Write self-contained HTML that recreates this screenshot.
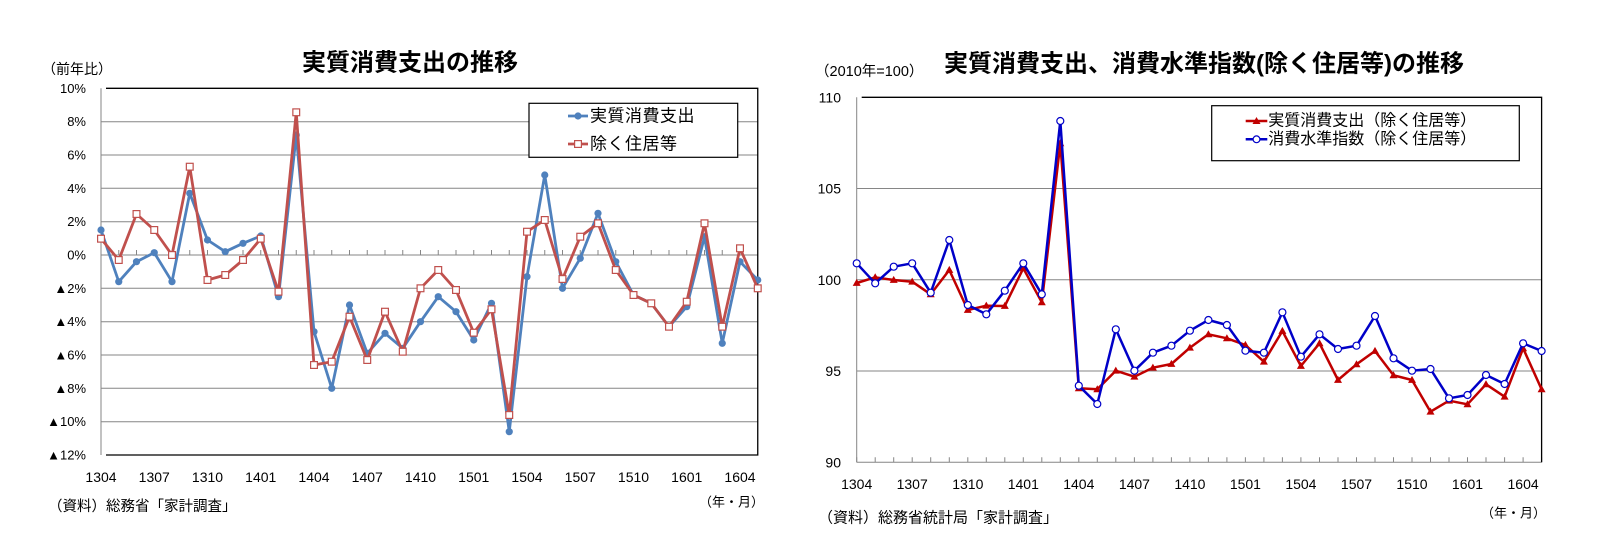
<!DOCTYPE html>
<html><head><meta charset="utf-8">
<style>
html,body{margin:0;padding:0;background:#fff;}
svg{display:block;}
text{font-family:"Liberation Sans","Noto Sans CJK JP",sans-serif;fill:#000;}
</style></head>
<body>
<svg width="1603" height="554" viewBox="0 0 1603 554" xmlns="http://www.w3.org/2000/svg">
<defs>
<marker id="mb" markerWidth="10" markerHeight="10" refX="5" refY="5" markerUnits="userSpaceOnUse"><circle cx="5" cy="5" r="3.6" fill="#4F81BD"/></marker>
<marker id="mr" markerWidth="10" markerHeight="10" refX="5" refY="5" markerUnits="userSpaceOnUse"><rect x="1.6" y="1.6" width="6.8" height="6.8" fill="#fff" stroke="#C0504D" stroke-width="1.2"/></marker>
<marker id="mt" markerWidth="10" markerHeight="10" refX="5" refY="5.4" markerUnits="userSpaceOnUse"><path d="M5 1.3 L9 8.3 L1 8.3 Z" fill="#C00000"/></marker>
<marker id="mc" markerWidth="10" markerHeight="10" refX="5" refY="5" markerUnits="userSpaceOnUse"><circle cx="5" cy="5" r="3.5" fill="#fff" stroke="#0000C8" stroke-width="1.2"/></marker>
</defs>
<rect width="1603" height="554" fill="#fff"/>

<!-- ============ LEFT CHART ============ -->
<text x="302" y="63" font-size="24" font-weight="bold" dominant-baseline="central">実質消費支出の推移</text>
<text x="42" y="69" font-size="14" dominant-baseline="central">（前年比）</text>

<!-- gridlines -->
<g stroke="#868686" stroke-width="1">
<line x1="101" y1="121.7" x2="757.75" y2="121.7"/>
<line x1="101" y1="155" x2="757.75" y2="155"/>
<line x1="101" y1="188.3" x2="757.75" y2="188.3"/>
<line x1="101" y1="221.7" x2="757.75" y2="221.7"/>
<line x1="101" y1="255" x2="757.75" y2="255"/>
<line x1="101" y1="288.3" x2="757.75" y2="288.3"/>
<line x1="101" y1="321.7" x2="757.75" y2="321.7"/>
<line x1="101" y1="355" x2="757.75" y2="355"/>
<line x1="101" y1="388.3" x2="757.75" y2="388.3"/>
<line x1="101" y1="421.7" x2="757.75" y2="421.7"/>
<line x1="101" y1="88.3" x2="101" y2="455"/>
<path d="M101 250V255M118.75 250V255M136.5 250V255M154.25 250V255M172 250V255M189.75 250V255M207.5 250V255M225.25 250V255M243 250V255M260.75 250V255M278.5 250V255M296.25 250V255M314 250V255M331.75 250V255M349.5 250V255M367.25 250V255M385 250V255M402.75 250V255M420.5 250V255M438.25 250V255M456 250V255M473.75 250V255M491.5 250V255M509.25 250V255M527 250V255M544.75 250V255M562.5 250V255M580.25 250V255M598 250V255M615.75 250V255M633.5 250V255M651.25 250V255M669 250V255M686.75 250V255M704.5 250V255M722.25 250V255M740 250V255"/>
</g>
<!-- frame -->
<path d="M106 88.3H757.75V455H106" fill="none" stroke="#000" stroke-width="1.3"/>

<!-- y labels -->
<g font-size="13" text-anchor="end" dominant-baseline="central">
<text x="86" y="88.3">10%</text>
<text x="86" y="121.7">8%</text>
<text x="86" y="155">6%</text>
<text x="86" y="188.3">4%</text>
<text x="86" y="221.7">2%</text>
<text x="86" y="255">0%</text>
<text x="86" y="288.3">▲2%</text>
<text x="86" y="321.7">▲4%</text>
<text x="86" y="355">▲6%</text>
<text x="86" y="388.3">▲8%</text>
<text x="86" y="421.7">▲10%</text>
<text x="86" y="455">▲12%</text>
</g>
<!-- x labels -->
<g font-size="14" text-anchor="middle" dominant-baseline="central">
<text x="101" y="477">1304</text>
<text x="154.25" y="477">1307</text>
<text x="207.5" y="477">1310</text>
<text x="260.75" y="477">1401</text>
<text x="314" y="477">1404</text>
<text x="367.25" y="477">1407</text>
<text x="420.5" y="477">1410</text>
<text x="473.75" y="477">1501</text>
<text x="527" y="477">1504</text>
<text x="580.25" y="477">1507</text>
<text x="633.5" y="477">1510</text>
<text x="686.75" y="477">1601</text>
<text x="740" y="477">1604</text>
</g>
<text x="764" y="502" font-size="13" text-anchor="end" dominant-baseline="central">（年・月）</text>
<text x="48" y="507" font-size="14.5" dominant-baseline="central">（資料）総務省「家計調査」</text>

<!-- series -->
<polyline fill="none" stroke="#4F81BD" stroke-width="2.8" stroke-linejoin="round" marker-start="url(#mb)" marker-mid="url(#mb)" marker-end="url(#mb)"
points="101,230 118.75,281.7 136.5,261.7 154.25,252.7 172,281.7 189.75,193.3 207.5,240 225.25,251.7 243,243.3 260.75,236 278.5,296.7 296.25,135 314,331.7 331.75,388.3 349.5,305 367.25,353.3 385,333.3 402.75,348.3 420.5,321.7 438.25,296.7 456,311.7 473.75,340 491.5,303.3 509.25,431.7 527,276.7 544.75,175 562.5,288.3 580.25,258.3 598,213.3 615.75,261.7 633.5,295 651.25,303.3 669,326.7 686.75,306.7 704.5,236.7 722.25,343.3 740,261.7 757.75,280"/>
<polyline fill="none" stroke="#C0504D" stroke-width="2.8" stroke-linejoin="round" marker-start="url(#mr)" marker-mid="url(#mr)" marker-end="url(#mr)"
points="101,238.7 118.75,260 136.5,214 154.25,230 172,255 189.75,166.7 207.5,280 225.25,275 243,260 260.75,238.7 278.5,291.7 296.25,112.3 314,365 331.75,361.7 349.5,316.7 367.25,360 385,311.7 402.75,351.7 420.5,288.3 438.25,270 456,290 473.75,332.7 491.5,309.3 509.25,415 527,231.7 544.75,220 562.5,279 580.25,236.7 598,223.3 615.75,270 633.5,295 651.25,303.3 669,326.7 686.75,301.7 704.5,223.3 722.25,326.7 740,248.3 757.75,288.3"/>

<!-- legend -->
<rect x="529" y="103.3" width="208.7" height="54" fill="#fff" stroke="#000" stroke-width="1.2"/>
<line x1="568" y1="116" x2="588" y2="116" stroke="#4F81BD" stroke-width="2.8"/>
<circle cx="578" cy="116" r="3.6" fill="#4F81BD"/>
<line x1="568" y1="144" x2="588" y2="144" stroke="#C0504D" stroke-width="2.8"/>
<rect x="574.6" y="140.6" width="6.8" height="6.8" fill="#fff" stroke="#C0504D" stroke-width="1.2"/>
<text x="590" y="116" font-size="17" letter-spacing="0.5" dominant-baseline="central">実質消費支出</text>
<text x="590" y="144" font-size="17" letter-spacing="0.5" dominant-baseline="central">除く住居等</text>

<!-- ============ RIGHT CHART ============ -->
<text x="944" y="64" font-size="24" font-weight="bold" dominant-baseline="central">実質消費支出、消費水準指数(除く住居等)の推移</text>
<text x="815" y="72" font-size="14.5" dominant-baseline="central">（2010年=100）</text>

<g stroke="#868686" stroke-width="1">
<line x1="856.7" y1="188.55" x2="1541.6" y2="188.55"/>
<line x1="856.7" y1="279.8" x2="1541.6" y2="279.8"/>
<line x1="856.7" y1="371.05" x2="1541.6" y2="371.05"/>
<line x1="856.7" y1="97.3" x2="856.7" y2="462.3"/>
<line x1="856.7" y1="462.3" x2="1541.6" y2="462.3"/>
<path d="M856.7 457.3V462.3M875.2 457.3V462.3M893.7 457.3V462.3M912.2 457.3V462.3M930.7 457.3V462.3M949.3 457.3V462.3M967.8 457.3V462.3M986.3 457.3V462.3M1004.8 457.3V462.3M1023.3 457.3V462.3M1041.8 457.3V462.3M1060.3 457.3V462.3M1078.8 457.3V462.3M1097.3 457.3V462.3M1115.8 457.3V462.3M1134.4 457.3V462.3M1152.9 457.3V462.3M1171.4 457.3V462.3M1189.9 457.3V462.3M1208.4 457.3V462.3M1226.9 457.3V462.3M1245.4 457.3V462.3M1263.9 457.3V462.3M1282.4 457.3V462.3M1300.9 457.3V462.3M1319.5 457.3V462.3M1338 457.3V462.3M1356.5 457.3V462.3M1375 457.3V462.3M1393.5 457.3V462.3M1412 457.3V462.3M1430.5 457.3V462.3M1449 457.3V462.3M1467.5 457.3V462.3M1486 457.3V462.3M1504.6 457.3V462.3M1523.1 457.3V462.3M1541.6 457.3V462.3"/>
</g>
<path d="M861.7 97.3H1541.6V462.3" fill="none" stroke="#000" stroke-width="1.3"/>

<g font-size="14" text-anchor="end" dominant-baseline="central">
<text x="841" y="97.3">110</text>
<text x="841" y="188.55">105</text>
<text x="841" y="279.8">100</text>
<text x="841" y="371.05">95</text>
<text x="841" y="462.3">90</text>
</g>
<g font-size="14" text-anchor="middle" dominant-baseline="central">
<text x="856.7" y="484">1304</text>
<text x="912.2" y="484">1307</text>
<text x="967.8" y="484">1310</text>
<text x="1023.3" y="484">1401</text>
<text x="1078.8" y="484">1404</text>
<text x="1134.4" y="484">1407</text>
<text x="1189.9" y="484">1410</text>
<text x="1245.4" y="484">1501</text>
<text x="1300.9" y="484">1504</text>
<text x="1356.5" y="484">1507</text>
<text x="1412" y="484">1510</text>
<text x="1467.5" y="484">1601</text>
<text x="1523.1" y="484">1604</text>
</g>
<text x="1546" y="513" font-size="13" text-anchor="end" dominant-baseline="central">（年・月）</text>
<text x="818" y="518" font-size="15" dominant-baseline="central">（資料）総務省統計局「家計調査」</text>

<polyline fill="none" stroke="#C00000" stroke-width="2.5" stroke-linejoin="round" marker-start="url(#mt)" marker-mid="url(#mt)" marker-end="url(#mt)"
points="856.7,283 875.2,277.3 893.7,280 912.2,281.7 930.7,294.3 949.3,270 967.8,310 986.3,305.7 1004.8,306 1023.3,268.3 1041.8,302.3 1060.3,143.3 1078.8,388.3 1097.3,389.3 1115.8,370.7 1134.4,376.7 1152.9,367.7 1171.4,364 1189.9,347.7 1208.4,334.3 1226.9,338.3 1245.4,345 1263.9,361.7 1282.4,331 1300.9,366 1319.5,343.3 1338,380 1356.5,364.3 1375,351 1393.5,375.3 1412,380 1430.5,411.7 1449,400.7 1467.5,404.3 1486,384.3 1504.6,396.7 1523.1,348.3 1541.6,389.3"/>
<polyline fill="none" stroke="#0000C8" stroke-width="2.5" stroke-linejoin="round" marker-start="url(#mc)" marker-mid="url(#mc)" marker-end="url(#mc)"
points="856.7,263.3 875.2,283.3 893.7,266.7 912.2,263.3 930.7,292.7 949.3,240 967.8,305 986.3,314.3 1004.8,290.7 1023.3,263.3 1041.8,294.3 1060.3,121 1078.8,385.7 1097.3,404 1115.8,329.3 1134.4,370.7 1152.9,352.7 1171.4,345.7 1189.9,330.7 1208.4,320 1226.9,325 1245.4,350.7 1263.9,352.7 1282.4,312.3 1300.9,356.7 1319.5,334.3 1338,349 1356.5,345.7 1375,316 1393.5,358.3 1412,370.7 1430.5,369 1449,398.3 1467.5,395 1486,375 1504.6,384 1523.1,343.3 1541.6,351"/>

<!-- legend -->
<rect x="1211.7" y="105.7" width="307.6" height="55" fill="#fff" stroke="#000" stroke-width="1.2"/>
<line x1="1245.7" y1="121" x2="1267.3" y2="121" stroke="#C00000" stroke-width="2.5"/>
<path d="M1256.5 117 L1260.5 124 L1252.5 124 Z" fill="#C00000"/>
<line x1="1245.7" y1="139.3" x2="1267.3" y2="139.3" stroke="#0000C8" stroke-width="2.5"/>
<circle cx="1256.5" cy="139.3" r="3.4" fill="#fff" stroke="#0000C8" stroke-width="1.2"/>
<text x="1268.3" y="121" font-size="16" dominant-baseline="central">実質消費支出（除く住居等）</text>
<text x="1268.3" y="139.3" font-size="16" dominant-baseline="central">消費水準指数（除く住居等）</text>
</svg>
</body></html>
